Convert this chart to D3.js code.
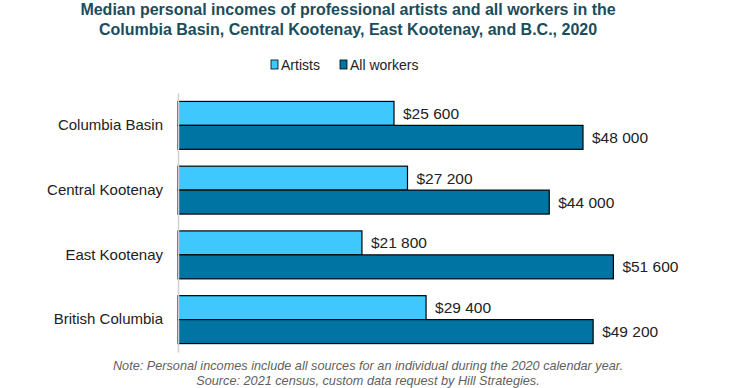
<!DOCTYPE html>
<html>
<head>
    <script src="https://d3js.org/d3.v7.min.js" charset="utf-8"></script>
    <style>
        body { margin: 0; background: #fff; }
        text { font-family: "Liberation Sans", Arial, sans-serif; }
    </style>
</head>
<body>
<script>
    const regions = ["Columbia Basin", "Central Kootenay", "East Kootenay", "British Columbia"];
    const seriesNames = ["Artists", "All workers"];
    const artists = [25600, 27200, 21800, 29400];
    const allWorkers = [48000, 44000, 51600, 49200];
    const colors = ["#3ec8fd", "#0074a2"];
    const titleLines = [
        "Median personal incomes of professional artists and all workers in the",
        "Columbia Basin, Central Kootenay, East Kootenay, and B.C., 2020"
    ];
    const noteLines = [
        "Note: Personal incomes include all sources for an individual during the 2020 calendar year.",
        "Source: 2021 census, custom data request by Hill Strategies."
    ];

    const W = 741, H = 388;
    const plotLeft = 178, plotTop = 93, plotBottom = 352;

    const rows = regions.map((r, i) => ({region: r, values: [artists[i], allWorkers[i]]}));

    const svg = d3.select("body").append("svg").attr("width", W).attr("height", H);

    // title
    svg.selectAll("text.title")
      .data(titleLines)
      .enter()
      .append("text")
      .attr("class", "title")
      .attr("x", 348)
      .attr("y", (d, i) => 15 + i * 20)
      .attr("text-anchor", "middle")
      .style("font-weight", "bold")
      .style("font-size", "16px")
      .style("fill", "#1b4d5c")
      .text(d => d);

    const x = d3.scaleLinear().domain([0, 60000]).range([plotLeft, plotLeft + 506.25]);
    const y = d3.scaleBand().domain(regions).range([plotTop, plotBottom]).paddingInner(0.26).paddingOuter(0.13);
    const ySub = d3.scaleBand().domain(seriesNames).range([0, y.bandwidth()]);

    const groups = svg.selectAll("g.row")
      .data(rows)
      .enter()
      .append("g")
      .attr("class", "row")
      .attr("transform", d => `translate(0,${y(d.region)})`);

    groups.selectAll("rect")
      .data(d => d.values.map((v, j) => ({key: seriesNames[j], value: v, j: j})))
      .enter()
      .append("rect")
      .attr("x", x(0))
      .attr("y", d => ySub(d.key))
      .attr("width", d => x(d.value) - x(0))
      .attr("height", ySub.bandwidth())
      .style("fill", d => colors[d.j])
      .style("stroke", "#000")
      .style("stroke-width", 1.2);

    const fmt = v => "$" + d3.format(",")(v).replace(/,/g, " ");

    groups.selectAll("text.val")
      .data(d => d.values.map((v, j) => ({key: seriesNames[j], value: v})))
      .enter()
      .append("text")
      .attr("class", "val")
      .attr("x", d => x(d.value) + 9)
      .attr("y", d => ySub(d.key) + ySub.bandwidth() / 2)
      .attr("dy", "0.35em")
      .style("font-size", "15.5px")
      .style("fill", "#222")
      .text(d => fmt(d.value));

    // category axis
    const yAxis = d3.axisLeft(y).tickSize(0).tickPadding(15);
    const ag = svg.append("g").attr("transform", `translate(${plotLeft},0)`).call(yAxis);
    ag.select(".domain").attr("stroke", "#d0d0d0").attr("stroke-width", 1.5);
    ag.selectAll("text")
      .style("font-family", "'Liberation Sans', Arial, sans-serif")
      .style("font-size", "15px")
      .style("fill", "#222");

    // legend
    const legendX = [271, 340];
    const lg = svg.selectAll("g.legend")
      .data(seriesNames)
      .enter()
      .append("g")
      .attr("class", "legend")
      .attr("transform", (d, i) => `translate(${legendX[i]},60)`);
    lg.append("rect")
      .attr("width", 7).attr("height", 9)
      .style("fill", (d, i) => colors[i])
      .style("stroke", "#000").style("stroke-width", 0.8);
    lg.append("text")
      .attr("x", 10).attr("y", 10)
      .style("font-size", "14px")
      .style("fill", "#222")
      .text(d => d);

    // note
    svg.selectAll("text.note")
      .data(noteLines)
      .enter()
      .append("text")
      .attr("class", "note")
      .attr("x", 368)
      .attr("y", (d, i) => 370 + i * 15)
      .attr("text-anchor", "middle")
      .style("font-style", "italic")
      .style("font-size", "12.7px")
      .style("fill", "#5f5f5f")
      .text(d => d);
</script>
</body>
</html>
